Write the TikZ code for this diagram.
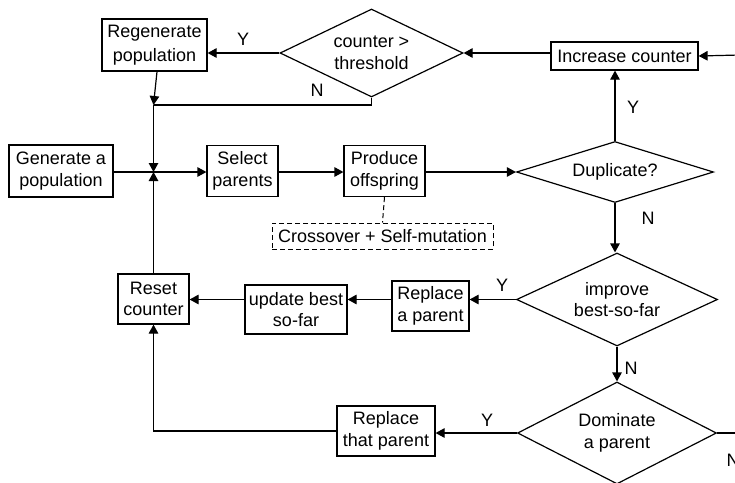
\documentclass[tikz,border=0pt]{standalone}
\usepackage{fontspec}
\setmainfont{Liberation Sans}
\usetikzlibrary{shapes.geometric,arrows.meta}
\begin{document}
\begin{tikzpicture}[x=1pt,y=-1pt,
  every node/.style={font=\fontsize{18}{21.5}\selectfont},
  box/.style={draw,line width=1.2pt,inner sep=0pt,align=center},
  dbox/.style={draw,line width=1pt,dash pattern=on 5pt off 3pt,inner sep=0pt},
  dec/.style={draw,diamond,line width=1.2pt,inner sep=0pt,aspect=2.2,align=center},
  conn/.style={line width=1.2pt},
  dconn/.style={line width=1pt,dash pattern=on 5pt off 3pt},
  arr/.style={line width=1.2pt,-{Triangle[length=9pt,width=9.5pt]}},
  lab/.style={inner sep=0pt}]
\useasboundingbox (0,0) rectangle (735,482);
\clip (0,0) rectangle (735,482);
% boxes
\node[box,minimum width=105pt,minimum height=52pt,font=\fontsize{18}{23.5}\selectfont] (regen) at (154.5,45) {Regenerate\\population};
\node[box,minimum width=104pt,minimum height=52pt] (gen) at (61,171) {Generate a\\population};
\node[box,minimum width=71pt,minimum height=51pt] (sel) at (242.5,171) {Select\\parents};
\node[box,minimum width=81pt,minimum height=51pt] (prod) at (384.5,171) {Produce\\offspring};
\node[dbox,minimum width=221pt,minimum height=26pt] (cross) at (382.5,236) {Crossover + Self-mutation};
\node[box,minimum width=147pt,minimum height=28pt] (inc) at (624.5,56) {Increase counter};
\node[box,minimum width=71pt,minimum height=50pt] (reset) at (153.5,299) {Reset\\counter};
\node[box,minimum width=102pt,minimum height=49pt] (upd) at (296,309.5) {update best\\so-far};
\node[box,minimum width=77pt,minimum height=50pt] (repa) at (430.5,306) {Replace\\a parent};
\node[box,minimum width=98pt,minimum height=50pt] (rept) at (386,431) {Replace\\that parent};
% decisions
\node[dec,minimum width=183pt,minimum height=88pt] (thr) at (371.5,53) {\raisebox{-3pt}{counter >}\\\raisebox{-3pt}{threshold}};
\node[dec,minimum width=197pt,minimum height=61pt] (dup) at (615,172) {Duplicate?};
\node[dec,minimum width=201pt,minimum height=93pt] (imp) at (617,299.5) {improve\\best-so-far};
\node[dec,minimum width=199pt,minimum height=102pt] (dom) at (617,433) {Dominate\\a parent};
% helper coordinates
\coordinate (j0) at (153.5,172);
\coordinate (j1) at (153.5,105);
\coordinate (inR) at (740,55);
\coordinate (dR) at (740,433);
% connectors
\draw[arr] (inR) -- (inc.east);
\draw[arr] ([yshift=3pt]inc.west) -- (thr.east);
\draw[arr] (thr.west) -- (thr.west -| regen.east);
\draw[arr] ([xshift=2.5pt]regen.south) -- (j1);
\draw[conn] (thr.south) -- (thr.south |- j1) -- (j1);
\draw[arr] (j1) -- (j0);
\draw[arr] (gen.east |- j0) -- (sel.west |- j0);
\draw[arr] (reset.north) -- (j0);
\draw[arr] (sel.east |- j0) -- (prod.west |- j0);
\draw[arr] (prod.east |- j0) -- (dup.west);
\draw[dconn] (prod.south) -- (cross.north);
\draw[arr] (dup.north) -- (dup.north |- inc.south);
\draw[arr] (dup.south) -- (dup.south |- imp.north);
\draw[arr] (imp.west) -- (imp.west -| repa.east);
\draw[arr] (repa.west |- imp.west) -- (upd.east |- imp.west);
\draw[arr] (upd.west |- imp.west) -- (reset.east |- imp.west);
\draw[arr] (imp.south) -- (dom.north);
\draw[arr] (dom.west) -- (dom.west -| rept.east);
\draw[arr] (rept.west) -- (rept.west -| reset.south) -- (reset.south);
\draw[conn] (dom.east) -- (dR);
% labels
\node[lab] (ly1) at (243,39) {Y};
\node[lab] (ln1) at (317,90) {N};
\node[lab] (ly2) at (633,107) {Y};
\node[lab] (ln2) at (648,218) {N};
\node[lab] (ly3) at (502,285) {Y};
\node[lab] (ln3) at (631,368) {N};
\node[lab] (ly4) at (487,420) {Y};
\node[lab] (ln4) at (733,460) {N};
\end{tikzpicture}
\end{document}
